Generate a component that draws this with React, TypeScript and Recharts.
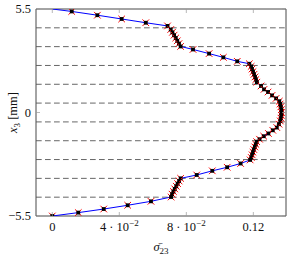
import {
  ScatterChart,
  Scatter,
  XAxis,
  YAxis,
  ReferenceLine,
  ReferenceArea,
} from "recharts";

// through-thickness position x3 [mm], top surface to bottom surface
const Z_POS = [
  5.5, 5.37, 5.17, 4.97, 4.77, 4.6,
  4.41, 4.26, 4.11, 3.96, 3.81, 3.66, 3.51,
  3.35, 3.13, 2.93, 2.72, 2.59,
  2.45, 2.31, 2.17, 2.03, 1.89, 1.75, 1.61,
  1.41, 1.23, 1.09, 0.91, 0.75, 0.6,
  0.45, 0.3, 0.15, 0.0, -0.15, -0.3, -0.45, -0.62,
  -0.8, -0.945, -1.115, -1.26, -1.42,
  -1.55, -1.69, -1.83, -1.97, -2.11, -2.25, -2.39, -2.52,
  -2.71, -2.91, -3.1, -3.32,
  -3.5, -3.64, -3.78, -3.92, -4.06, -4.2, -4.34, -4.49,
  -4.72, -4.93, -5.13, -5.32, -5.5,
];

// normalised transverse shear stress
const SIGMA_23 = [
  0, 0.0116, 0.0269, 0.0414, 0.0558, 0.0688,
  0.0707, 0.0717, 0.0727, 0.0737, 0.0746, 0.0756, 0.0766,
  0.084, 0.0936, 0.1021, 0.1104, 0.1176,
  0.1187, 0.1192, 0.1198, 0.1204, 0.121, 0.1215, 0.1221,
  0.1246, 0.1264, 0.1288, 0.1312, 0.1336, 0.1355,
  0.136, 0.1364, 0.1367, 0.1368, 0.1367, 0.1365, 0.1361, 0.1353,
  0.134, 0.1316, 0.129, 0.1262, 0.1237,
  0.122, 0.1215, 0.1209, 0.1203, 0.1198, 0.1193, 0.1188, 0.1181,
  0.1124, 0.1044, 0.0955, 0.0862,
  0.0766, 0.0757, 0.0748, 0.074, 0.0731, 0.0723, 0.0715, 0.0709,
  0.0589, 0.045, 0.0307, 0.0155, 0,
];

const LAYER_INTERFACES = [4.5, 3.5, 2.5, 1.5, 0.5, -0.5, -1.5, -2.5, -3.5, -4.5];

const X_TICKS = [0, 0.04, 0.08, 0.12];
const X_TICK_TEXT = ["0", "4 · 10", "8 · 10", "0.12"];
const X_TICK_EXP = ["", "−2", "−2", ""];
const Y_TICKS = [-5.5, 0, 5.5];
const Y_TICK_TEXT = ["−5.5", "0", "5.5"];

const X_DOMAIN: [number, number] = [-0.00973, 0.1395];
const Y_DOMAIN: [number, number] = [-5.5, 5.5];

const profile = Z_POS.map((z, i) => ({ z, s: SIGMA_23[i] }));
// the top surface point is only on the line, it has no marker
const markers = profile.slice(1);

const W = 287;
const H = 257;
const PLOT_TOP = 9;
const PLOT_BOTTOM = 216;
const PLOT_LEFT = 36;
const PLOT_RIGHT = 286;
const FONT = "Liberation Serif";

const XTick = ({ x, payload }: any) => {
  const i = X_TICKS.indexOf(payload.value);
  return (
    <g>
      <line x1={x} x2={x} y1={PLOT_BOTTOM} y2={PLOT_BOTTOM - 4} stroke="#999" strokeWidth={0.7} />
      <line x1={x} x2={x} y1={PLOT_TOP} y2={PLOT_TOP + 4} stroke="#999" strokeWidth={0.7} />
      <text x={x} y={PLOT_BOTTOM + 14.5} textAnchor="middle" fontFamily={FONT} fontSize={12.5} fill="#111">
        {X_TICK_TEXT[i]}
        {X_TICK_EXP[i] && (
          <tspan dy={-5} fontSize={9}>
            {X_TICK_EXP[i]}
          </tspan>
        )}
      </text>
    </g>
  );
};

const YTick = ({ y, payload }: any) => {
  const i = Y_TICKS.indexOf(payload.value);
  return (
    <g>
      <line x1={PLOT_LEFT} x2={PLOT_LEFT + 4} y1={y} y2={y} stroke="#999" strokeWidth={0.7} />
      <line x1={PLOT_RIGHT} x2={PLOT_RIGHT - 4} y1={y} y2={y} stroke="#999" strokeWidth={0.7} />
      <text x={PLOT_LEFT - 5} y={y} dy={4} textAnchor="end" fontFamily={FONT} fontSize={12.5} fill="#111">
        {Y_TICK_TEXT[i]}
      </text>
    </g>
  );
};

const Marker = ({ cx, cy }: any) => (
  <g>
    <line x1={cx - 3.3} y1={cy - 3.3} x2={cx + 3.3} y2={cy + 3.3} stroke="#ff0000" strokeWidth={1} />
    <line x1={cx - 3.3} y1={cy + 3.3} x2={cx + 3.3} y2={cy - 3.3} stroke="#ff0000" strokeWidth={1} />
    <rect x={cx - 1.9} y={cy - 1.9} width={3.8} height={3.8} fill="#000" />
  </g>
);

export default function App() {
  return (
    <div style={{ position: "absolute", left: 0, top: 0, width: W, height: H, background: "#fff" }}>
      <ScatterChart width={W} height={H} margin={{ top: PLOT_TOP, right: W - PLOT_RIGHT, left: 0, bottom: 0 }}>
        <XAxis
          type="number"
          dataKey="s"
          domain={X_DOMAIN}
          ticks={X_TICKS}
          interval={0}
          allowDataOverflow
          height={H - PLOT_BOTTOM}
          tick={<XTick />}
          tickLine={false}
          axisLine={false}
        />
        <YAxis
          type="number"
          dataKey="z"
          domain={Y_DOMAIN}
          ticks={Y_TICKS}
          interval={0}
          allowDataOverflow
          width={PLOT_LEFT}
          tick={<YTick />}
          tickLine={false}
          axisLine={false}
        />
        {LAYER_INTERFACES.map((v) => (
          <ReferenceLine key={v} y={v} stroke="#555" strokeWidth={0.9} strokeDasharray="5.7 3.3" />
        ))}
        <ReferenceArea
          x1={X_DOMAIN[0]}
          x2={X_DOMAIN[1]}
          y1={Y_DOMAIN[0]}
          y2={Y_DOMAIN[1]}
          fill="none"
          fillOpacity={0}
          stroke="#333"
          strokeWidth={0.9}
          ifOverflow="visible"
        />
        <Scatter
          data={profile}
          line={{ stroke: "#0000ff", strokeWidth: 1 }}
          shape={() => <g />}
          isAnimationActive={false}
        />
        <Scatter data={markers} shape={<Marker />} isAnimationActive={false} />
      </ScatterChart>
      <svg width={W} height={H} style={{ position: "absolute", left: 0, top: 0, pointerEvents: "none" }}>
        <text
          transform={`rotate(-90, 13, 112.5)`}
          x={13}
          y={112.5}
          dy={4}
          textAnchor="middle"
          fontFamily={FONT}
          fontSize={12.5}
          fill="#111"
        >
          <tspan fontStyle="italic">x</tspan>
          <tspan dy={3} fontSize={9}>3</tspan>
          <tspan dy={-3}> [mm]</tspan>
        </text>
        <text x={(PLOT_LEFT + PLOT_RIGHT) / 2} y={251} textAnchor="middle" fontFamily={FONT} fontSize={12.5} fill="#111">
          <tspan fontStyle="italic">σ̄</tspan>
          <tspan dy={3} fontSize={9}>23</tspan>
        </text>
      </svg>
    </div>
  );
}
